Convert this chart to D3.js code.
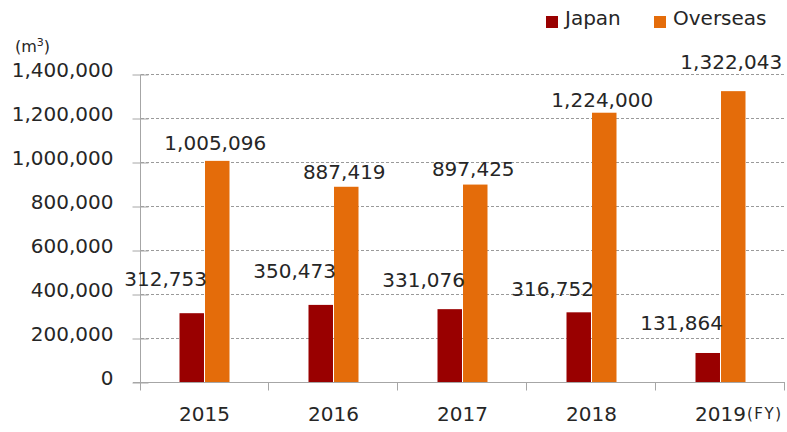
<!DOCTYPE html>
<html>
<head>
<meta charset="utf-8">
<script src="https://cdn.jsdelivr.net/npm/d3@7"></script>
<style>
  body { margin: 0; background: #fff; }
  svg, svg text { font-family: "DejaVu Sans", Verdana, sans-serif; }
</style>
</head>
<body>
<div class="chart"></div>
<script>
(function drawChart() {
	"use strict";

	// values
	var years = ["2015", "2016", "2017", "2018", "2019"];
	var series = ["Japan", "Overseas"];
	var japan = [312753, 350473, 331076, 316752, 131864];
	var overseas = [1005096, 887419, 897425, 1224000, 1322043];
	var yTicks = [0, 200000, 400000, 600000, 800000, 1000000, 1200000, 1400000];

	// label nudges (px above bar top), layout only
	var japanLift = [27, 27, 22, 16, 23];
	var overLift = [11, 8, 9, 6, 22];

	var width = 787;
	var height = 432;
	var font = "DejaVu Sans, Verdana, sans-serif";
	var colors = { Japan: "#990000", Overseas: "#e46c0a" };
	var axisGrey = "#a6a6a6";
	var textCol = "#262626";

	var svg = d3.select(".chart")
				.append("svg")
				.attr("width", width)
				.attr("height", height);

	var xScale = d3.scaleBand()
				   .domain(years)
				   .range([140, 785]);

	var yScale = d3.scaleLinear()
				   .domain([0, 1400000])
				   .range([382, 74]);

	var inner = d3.scaleBand()
				  .domain(series)
				  .range([xScale.bandwidth() / 2 - 25, xScale.bandwidth() / 2 + 25])
				  .paddingInner(0.04);

	// gridlines
	svg.append("g")
	   .selectAll("line")
	   .data(yTicks.slice(1))
	   .enter()
	   .append("line")
	   .attr("x1", 141)
	   .attr("x2", 785)
	   .attr("y1", function(d) { return yScale(d) + 0.5; })
	   .attr("y2", function(d) { return yScale(d) + 0.5; })
	   .attr("stroke", "#9a9a9a")
	   .attr("stroke-width", 1)
	   .attr("stroke-dasharray", "3,2");

	// y axis
	var yAxis = d3.axisLeft(yScale)
				  .tickValues(yTicks)
				  .tickSize(8)
				  .tickPadding(19)
				  .tickFormat(d3.format(","));

	var yG = svg.append("g")
				.attr("transform", "translate(140.5,0.5)")
				.call(yAxis)
				.attr("font-family", font)
				.attr("font-size", 20);
	yG.select(".domain").remove();
	yG.selectAll(".tick line").attr("stroke", axisGrey).attr("x2", 8).attr("x1", -8);
	yG.selectAll(".tick text")
	  .attr("fill", textCol)
	  .attr("dy", "0.12em");
	yG.append("line")
	  .attr("x1", 0).attr("x2", 0)
	  .attr("y1", 74).attr("y2", 390)
	  .attr("stroke", axisGrey);

	// x axis
	var xAxis = d3.axisBottom(xScale)
				  .tickSize(0)
				  .tickPadding(24);

	var xG = svg.append("g")
				.attr("transform", "translate(0,382.5)")
				.call(xAxis)
				.attr("font-family", font)
				.attr("font-size", 20);
	xG.select(".domain").remove();
	xG.selectAll(".tick text")
	  .attr("fill", textCol);
	xG.append("line")
	  .attr("x1", 133).attr("x2", 785)
	  .attr("stroke", axisGrey);
	xG.selectAll(".sep")
	  .data(years)
	  .enter()
	  .append("line")
	  .attr("class", "sep")
	  .attr("x1", function(d) { return Math.round(xScale(d) + xScale.bandwidth()) - 0.5; })
	  .attr("x2", function(d) { return Math.round(xScale(d) + xScale.bandwidth()) - 0.5; })
	  .attr("y1", 0)
	  .attr("y2", 8)
	  .attr("stroke", axisGrey);

	svg.append("text")
	   .attr("x", 747)
	   .attr("y", 419)
	   .attr("fill", textCol)
	   .style("font-size", "15px")
	   .style("letter-spacing", "1.5px")
	   .text("(FY)");

	// unit
	var unit = svg.append("text")
				  .attr("x", 15)
				  .attr("y", 52)
				  .attr("fill", textCol)
				  .style("font-size", "16px");
	unit.append("tspan").text("(m");
	unit.append("tspan").attr("dy", -6).style("font-size", "11px").text("3");
	unit.append("tspan").attr("dy", 6).text(")");

	// bars
	var rows = years.map(function(y, i) {
		return { year: y, i: i, Japan: japan[i], Overseas: overseas[i] };
	});

	var groups = svg.selectAll(".yr")
					.data(rows)
					.enter()
					.append("g")
					.attr("class", "yr")
					.attr("transform", function(d) { return "translate(" + xScale(d.year) + ",0)"; });

	groups.selectAll("rect")
		  .data(function(d) { return series.map(function(s) { return { key: s, value: d[s] }; }); })
		  .enter()
		  .append("rect")
		  .attr("x", function(d) { return inner(d.key); })
		  .attr("width", inner.bandwidth())
		  .attr("y", function(d) { return yScale(d.value); })
		  .attr("height", function(d) { return yScale(0) - yScale(d.value); })
		  .attr("fill", function(d) { return colors[d.key]; });

	var fmt = d3.format(",");

	groups.append("text")
		  .attr("x", inner("Japan") + inner.bandwidth() + 3)
		  .attr("y", function(d) { return yScale(d.Japan) - japanLift[d.i]; })
		  .attr("text-anchor", "end")
		  .attr("fill", textCol)
		  .style("font-size", "20px")
		  .text(function(d) { return fmt(d.Japan); });

	groups.append("text")
		  .attr("x", inner("Overseas") + inner.bandwidth() / 2 - 2)
		  .attr("y", function(d) { return yScale(d.Overseas) - overLift[d.i]; })
		  .attr("text-anchor", "middle")
		  .attr("fill", textCol)
		  .style("font-size", "20px")
		  .text(function(d) { return fmt(d.Overseas); });

	// legend
	var legendX = [546, 654];
	var legend = svg.selectAll(".leg")
					.data(series)
					.enter()
					.append("g")
					.attr("class", "leg")
					.attr("transform", function(d, i) { return "translate(" + legendX[i] + ",0)"; });
	legend.append("rect")
		  .attr("x", 0)
		  .attr("y", 16)
		  .attr("width", 12)
		  .attr("height", 12)
		  .attr("fill", function(d) { return colors[d]; });
	legend.append("text")
		  .attr("x", 19)
		  .attr("y", 25)
		  .attr("fill", textCol)
		  .style("font-size", "20px")
		  .text(function(d) { return d; });
}());
</script>
</body>
</html>
